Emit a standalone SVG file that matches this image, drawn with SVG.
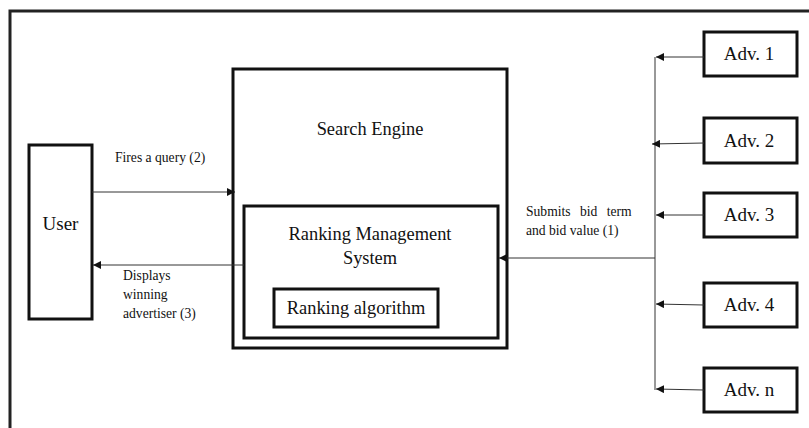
<svg xmlns="http://www.w3.org/2000/svg" width="809" height="428" viewBox="0 0 809 428">
<style>
.box{fill:#fff;stroke:#111;stroke-width:3}
.frame{fill:none;stroke:#222;stroke-width:3}
.ln{stroke:#333;stroke-width:1;fill:none}
.t{font-family:"Liberation Serif","Times New Roman",serif;fill:#111}
.big{font-size:19px}
.mid{font-size:18.4px}
.adv{font-size:19px}
.sm{font-size:13.6px}
</style>
<defs>
<marker id="ah" viewBox="0 0 10 10" refX="10" refY="5" markerWidth="8" markerHeight="8" markerUnits="userSpaceOnUse" orient="auto">
<path d="M0,0 L10,5 L0,10 z" fill="#111"/>
</marker>
</defs>
<rect class="frame" x="10" y="11" width="830" height="440"/>
<g id="user">
<rect class="box" x="29" y="145" width="63" height="174"/>
<text class="t big" x="60.5" y="230" text-anchor="middle">User</text>
</g>
<g id="search-engine">
<rect class="box" x="233" y="69" width="274" height="279"/>
<text class="t mid" x="370" y="135" text-anchor="middle">Search Engine</text>
</g>
<g id="ranking-management">
<rect class="box" x="244" y="206" width="254" height="132"/>
<text class="t mid" x="370" y="240" text-anchor="middle">Ranking Management</text>
<text class="t mid" x="370" y="264" text-anchor="middle">System</text>
</g>
<g id="ranking-algorithm">
<rect class="box" x="274" y="289" width="164" height="38"/>
<text class="t mid" x="356" y="314" text-anchor="middle">Ranking algorithm</text>
</g>
<g id="adv1">
<rect class="box" x="704" y="32" width="93" height="44"/>
<text class="t adv" x="749" y="60" text-anchor="middle">Adv. 1</text>
</g>
<g id="adv2">
<rect class="box" x="704" y="118" width="93" height="45"/>
<text class="t adv" x="749" y="147" text-anchor="middle">Adv. 2</text>
</g>
<g id="adv3">
<rect class="box" x="704" y="193" width="93" height="44"/>
<text class="t adv" x="749" y="221" text-anchor="middle">Adv. 3</text>
</g>
<g id="adv4">
<rect class="box" x="704" y="283" width="93" height="44"/>
<text class="t adv" x="749" y="311" text-anchor="middle">Adv. 4</text>
</g>
<g id="advn">
<rect class="box" x="704" y="368" width="93" height="44"/>
<text class="t adv" x="749" y="396" text-anchor="middle">Adv. n</text>
</g>
<g id="connectors">
<line class="ln" x1="92" y1="192" x2="235" y2="192" marker-end="url(#ah)"/>
<line class="ln" x1="244" y1="265" x2="93" y2="265" marker-end="url(#ah)"/>
<line class="ln" x1="655" y1="258" x2="499" y2="258" marker-end="url(#ah)"/>
<line class="ln" x1="655" y1="57" x2="655" y2="390"/>
<line class="ln" x1="704" y1="57" x2="656" y2="57" marker-end="url(#ah)"/>
<line class="ln" x1="704" y1="143" x2="652" y2="144" marker-end="url(#ah)"/>
<line class="ln" x1="704" y1="215" x2="656" y2="215" marker-end="url(#ah)"/>
<line class="ln" x1="704" y1="305" x2="656" y2="304" marker-end="url(#ah)"/>
<line class="ln" x1="704" y1="390" x2="656" y2="389" marker-end="url(#ah)"/>
<text class="t sm" x="115" y="162">Fires a query (2)</text>
<text class="t sm" x="123" y="280">Displays</text>
<text class="t sm" x="123" y="299">winning</text>
<text class="t sm" x="123" y="318">advertiser (3)</text>
<text class="t sm" x="526" y="216" word-spacing="6">Submits bid term</text>
<text class="t sm" x="526" y="235">and bid value (1)</text>
</g>
</svg>
